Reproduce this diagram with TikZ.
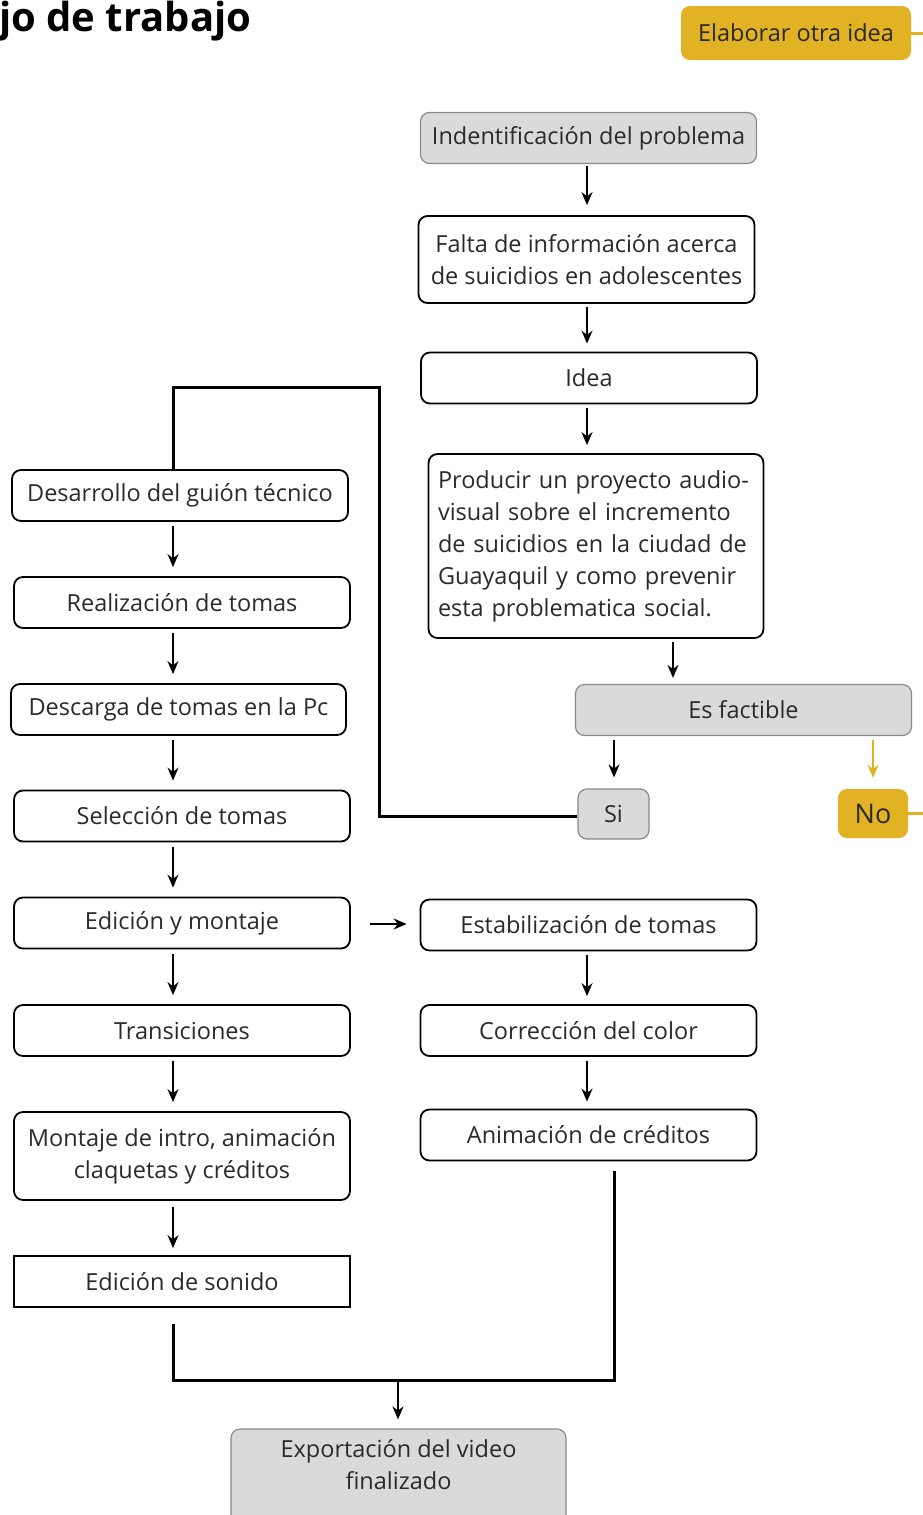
\documentclass[tikz,border=0pt]{standalone}
\usepackage{fontspec}
\setmainfont{Open Sans}
\usetikzlibrary{arrows.meta}
\definecolor{yel}{HTML}{E1B224}
\definecolor{gfill}{HTML}{DADADA}
\definecolor{gline}{HTML}{8A8A8A}
\definecolor{txt}{HTML}{2A2A2A}
\tikzset{
  every node/.style={font=\fontsize{23.5}{32}\selectfont, text=txt, inner sep=0pt},
  wbox/.style={draw=black, line width=1.8pt, rounded corners=9pt, fill=white, minimum width=336pt, minimum height=51pt, align=center},
  gbox/.style={draw=gline, line width=1.2pt, rounded corners=9pt, fill=gfill, minimum width=336pt, minimum height=51pt, align=center},
  ybox/.style={draw=none, rounded corners=9pt, fill=yel, minimum height=54pt, align=center},
  arr/.style={draw=black, line width=1.8pt, -{Stealth[length=13pt,width=11pt]}},
  yarr/.style={draw=yel, line width=1.8pt, -{Stealth[length=13pt,width=11pt]}},
  thickln/.style={draw=black, line width=3pt},
  yln/.style={draw=yel, line width=3pt},
}
\begin{document}
\begin{tikzpicture}[x=1pt,y=-1pt]
\useasboundingbox (0,0) rectangle (923,1515);
% title
\node[anchor=base west, font=\bfseries\fontsize{40}{44}\selectfont, text=black] (title) at (-1,31) {jo de trabajo};
% top right
\node[ybox, minimum width=230pt] (elab) at (796,33) {Elaborar otra idea};
\coordinate (e2) at (923,33);
\draw[yln] (elab.east) -- (e2);
% right column
\node[gbox] (idp) at (588.5,138) {Indentificación del problema};
\node[wbox, minimum height=87pt] (falta) at (586.5,259.5) {Falta de información acerca\\de suicidios en adolescentes};
\node[wbox] (idea) at (589,378) {Idea};
\node[wbox, minimum width=335pt, minimum height=184pt, align=left, text width=316pt] (prod) at (596,546) {Producir un proyecto audio-\\visual sobre el incremento\\de suicidios en la ciudad de\\Guayaquil y como prevenir\\esta problematica social.};
\node[gbox] (fact) at (743.5,710) {Es factible};
\node[gbox, minimum width=71pt, minimum height=50pt] (si) at (613.5,814) {Si};
\node[ybox, minimum width=70pt, minimum height=49pt, font=\fontsize{27}{30}\selectfont] (no) at (873,813.5) {No};
\coordinate (e1) at (923,813.5);
\draw[yln] (no.east) -- (e1);
% left column
\node[wbox] (des) at (180,495.5) {Desarrollo del guión técnico};
\node[wbox] (rea) at (182,602.5) {Realización de tomas};
\node[wbox, minimum width=335pt] (desc) at (178.5,709.5) {Descarga de tomas en la Pc};
\node[wbox] (sel) at (182,816) {Selección de tomas};
\node[wbox] (edm) at (182,923) {Edición y montaje};
\node[wbox] (tra) at (182,1030.5) {Transiciones};
\node[wbox, minimum height=88pt] (mon) at (182,1156) {Montaje de intro, animación\\claquetas y créditos};
\node[wbox, rounded corners=0pt] (son) at (182,1281.5) {Edición de sonido};
% right lower column
\node[wbox] (est) at (588.5,925) {Estabilización de tomas};
\node[wbox] (cor) at (588.5,1030.5) {Corrección del color};
\node[wbox] (ani) at (588.5,1135) {Animación de créditos};
\node[gbox, minimum width=335pt, minimum height=100pt, text depth=29pt] (exp) at (398.5,1479) {Exportación del video\\finalizado};
% arrows right column
\draw[arr, shorten <=2pt, shorten >=10pt] (idp.south -| 587,0) -- (falta.north -| 587,0);
\draw[arr, shorten <=3pt, shorten >=8pt] (falta.south -| 587,0) -- (idea.north -| 587,0);
\draw[arr, shorten <=4pt, shorten >=8pt] (idea.south -| 587,0) -- (prod.north -| 587,0);
\draw[arr, shorten <=3pt, shorten >=6pt] (prod.south -| 673,0) -- (fact.north -| 673,0);
\draw[arr, shorten <=4pt, shorten >=11pt] (fact.south -| 614,0) -- (si.north -| 614,0);
\draw[yarr, shorten <=4pt, shorten >=11pt] (fact.south -| 873,0) -- (no.north -| 873,0);
\coordinate (k1) at (379,387);
\draw[thickln] ([yshift=-2pt]si.west) -| (k1) -| ([xshift=-7pt]des.north);
% arrows left column
\draw[arr, shorten <=4pt, shorten >=9pt] (des.south -| 173,0) -- (rea.north -| 173,0);
\draw[arr, shorten <=4pt, shorten >=9pt] (rea.south -| 173,0) -- (desc.north -| 173,0);
\draw[arr, shorten <=4pt, shorten >=9pt] (desc.south -| 173,0) -- (sel.north -| 173,0);
\draw[arr, shorten <=5pt, shorten >=9pt] (sel.south -| 173,0) -- (edm.north -| 173,0);
\draw[arr, shorten <=5pt, shorten >=9pt] (edm.south -| 173,0) -- (tra.north -| 173,0);
\draw[arr, shorten <=4pt, shorten >=9pt] (tra.south -| 173,0) -- (mon.north -| 173,0);
\draw[arr, shorten <=6pt, shorten >=7pt] (mon.south -| 173,0) -- (son.north -| 173,0);
\draw[arr, shorten <=19pt, shorten >=13pt] (edm.east |- 0,924) -- (est.west |- 0,924);
\draw[arr, shorten <=4pt, shorten >=8pt] (est.south -| 587,0) -- (cor.north -| 587,0);
\draw[arr, shorten <=4pt, shorten >=7pt] (cor.south -| 587,0) -- (ani.north -| 587,0);
% merge
\coordinate (k3) at (614,1380);
\coordinate (k4) at (398,1380);
\draw[thickln] ([xshift=-9pt,yshift=-16pt]son.south) |- (k3) -- ([xshift=25.5pt,yshift=-10pt]ani.south);
\draw[arr, shorten >=9pt] (k4) -- (exp.north -| k4);
\end{tikzpicture}
\end{document}
